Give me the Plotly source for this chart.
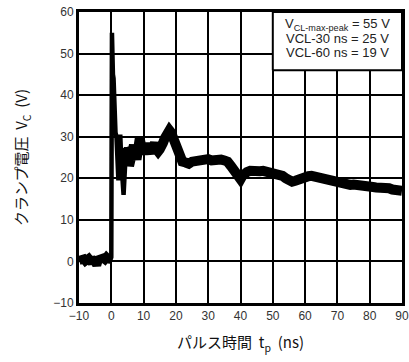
import plotly.graph_objects as go

# ---- data ----
t_pre = [-10, -9.5, -9, -8.5, -8, -7.5, -7, -6.5, -6, -5.5, -5, -4.5, -4, -3.5, -3, -2.5, -2, -1.5, -1, -0.5, -0.2]
v_pre = [0.2, 0.5, 0.3, 0.6, 0.1, 0.4, 0.7, 0.2, 0.5, 0.3, 0.0, -0.9, 0.4, 0.6, 0.3, 0.8, 0.5, 1.0, 0.6, 0.4, 0.5]

t_spike = [-0.2, 0.0, 0.1, 0.2, 0.35, 0.5, 0.7, 0.9, 1.0, 1.3, 1.6, 1.9, 2.2, 2.5, 2.8, 3.1, 3.5, 3.8, 4.2, 4.6]
v_spike = [0.5, 1.0, 30, 55, 54, 45, 44, 36, 33, 31, 30, 21, 19.5, 30, 30, 24, 17, 16, 22, 27.5]

t_main = [4.6, 5.0, 5.5, 6.0, 6.5, 7.0, 7.4, 7.8, 8.3, 8.8, 9.2, 9.6, 10, 10.5, 11, 11.5, 12, 12.5, 13, 13.5,
          14, 14.5, 15, 15.5, 16, 16.5, 17, 17.5, 18, 18.5, 19, 19.5, 20, 20.5, 21, 21.5, 22, 23, 24, 25,
          26, 27, 28, 29, 30, 31, 32, 33, 34, 35, 36, 37, 38, 39, 40, 40.5, 41, 42, 43, 44,
          45, 46, 47, 48, 49, 50, 51, 52, 53, 54, 55, 56, 57, 58, 59, 60, 61, 62, 63, 64,
          65, 66, 67, 68, 69, 70, 71, 72, 73, 74, 75, 76, 77, 78, 79, 80, 81, 82, 83, 84,
          85, 86, 87, 88, 89, 90]
v_main = [27.5, 26.5, 23, 25, 27, 28, 26, 24.5, 27, 29.5, 28, 26, 27, 26, 27.5, 28.3, 27, 26, 27.5, 28.5,
          27, 26.5, 27, 27.5, 28.5, 29.5, 30.5, 31.3, 31.5, 31.0, 30, 29, 27.5, 26.5, 25.5, 24.5, 24, 23.8, 23.5, 24,
          24.2, 24.5, 24.4, 24.7, 24.6, 24.3, 24.5, 24.2, 24.5, 24.3, 24.0, 23.0, 21.5, 20.5, 19.8, 20.5, 21, 21.5, 21.8, 21.6,
          21.9, 21.7, 21.8, 21.6, 21.8, 21.5, 21.3, 21.0, 20.6, 20.0, 19.5, 19.2, 19.4, 19.8, 20.2, 20.4, 20.5, 20.6, 20.4, 20.3,
          20.0, 19.8, 19.6, 19.3, 19.0, 18.8, 18.6, 18.5, 18.6, 18.4, 18.5, 18.3, 18.4, 18.2, 18.0, 18.1, 17.9, 17.8, 17.9, 17.6,
          17.5, 17.6, 17.3, 17.2, 17.4, 17.0]

x_ticks = [-10, 0, 10, 20, 30, 40, 50, 60, 70, 80, 90]
y_ticks = [-10, 0, 10, 20, 30, 40, 50, 60]

legend_lines = ["V<sub>CL-max-peak</sub> = 55 V", "VCL-30 ns = 25 V", "VCL-60 ns = 19 V"]
legend_box_x = [50, 90]
legend_box_y = [46, 60]

FONT = "Arial, 'Liberation Sans', 'Noto Sans CJK JP', sans-serif"
JFONT = "'Noto Sans CJK JP', Arial, 'Liberation Sans', sans-serif"

XR = [x_ticks[0], x_ticks[-1]]
YR = [y_ticks[0], y_ticks[-1]]

fig = go.Figure()
fig.add_trace(go.Scatter(x=t_pre, y=v_pre, mode="lines", line=dict(color="black", width=9), hoverinfo="skip"))
fig.add_trace(go.Scatter(x=t_spike, y=v_spike, mode="lines", line=dict(color="black", width=4.5), hoverinfo="skip"))
fig.add_trace(go.Scatter(x=t_main, y=v_main, mode="lines", line=dict(color="black", width=10), hoverinfo="skip"))

bx0, bx1 = legend_box_x
by0, by1 = legend_box_y
fig.add_trace(go.Scatter(x=[bx0, bx1, bx1, bx0, bx0], y=[by0, by0, by1, by1, by0], mode="lines",
                         fill="toself", fillcolor="white", line=dict(color="black", width=2),
                         hoverinfo="skip"))
for i, txt in enumerate(legend_lines):
    fig.add_annotation(x=(bx0 + bx1) / 2, y=56.9 - i * 3.35, xref="x", yref="y", text=txt, showarrow=False,
                       font=dict(family=FONT, size=13, color="#222"), xanchor="center", yanchor="middle")

axis_common = dict(showgrid=True, gridcolor="black", gridwidth=2, zeroline=False,
                   showline=True, linecolor="black", linewidth=3, mirror=True,
                   ticks="", automargin=False, tickfont=dict(family=FONT, size=12, color="#333"))

fig.update_xaxes(range=XR, tickmode="array", tickvals=x_ticks,
                 title=dict(text="パルス時間\u00a0\u00a0t<sub>p</sub>\u00a0\u00a0(ns)",
                            font=dict(family=JFONT, size=15, color="#111"), standoff=16),
                 **axis_common)
fig.update_yaxes(range=YR, tickmode="array", tickvals=y_ticks,
                 title=dict(text="クランプ電圧\u00a0\u00a0V<sub>C</sub>\u00a0\u00a0(V)",
                            font=dict(family=JFONT, size=15, color="#111"), standoff=22),
                 **axis_common)

fig.update_layout(template="simple_white", width=409, height=362, margin=dict(l=79, r=7, t=12, b=59),
                  plot_bgcolor="white", paper_bgcolor="white", showlegend=False)

fig.write_html("out.html", config={"displayModeBar": False},
               post_script="document.body.style.margin='0';")
